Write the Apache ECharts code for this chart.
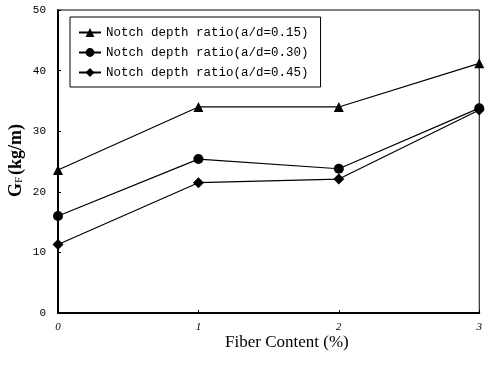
<!DOCTYPE html>
<html>
<head>
<meta charset="utf-8">
<script src="https://cdn.jsdelivr.net/npm/echarts@6/dist/echarts.min.js"></script>
<style>
  html, body { margin: 0; padding: 0; background: #fff; }
  #chart { width: 485px; height: 366px; }
</style>
</head>
<body>
<div id="chart"></div>
<script>
// Fracture energy vs. fiber content for three notch depth ratios
const fiberContent = [0, 1, 2, 3];
const seriesNames = [
  'Notch depth ratio(a/d=0.15)',
  'Notch depth ratio(a/d=0.30)',
  'Notch depth ratio(a/d=0.45)'
];
const gfRatio015 = [23.6, 34.0, 34.0, 41.2];
const gfRatio030 = [16.0, 25.4, 23.8, 33.8];
const gfRatio045 = [11.3, 21.5, 22.1, 33.5];
const seriesSymbols = ['triangle', 'circle', 'diamond'];

const allValues = [gfRatio015, gfRatio030, gfRatio045];

const chart = echarts.init(document.getElementById('chart'), null, { renderer: 'canvas' });

const series = allValues.map((vals, i) => ({
  name: seriesNames[i],
  type: 'line',
  data: fiberContent.map((x, j) => [x, vals[j]]),
  symbol: seriesSymbols[i],
  symbolSize: i === 2 ? 11 : 10,
  lineStyle: { color: '#000', width: 1.2 },
  itemStyle: { color: '#000' },
  z: 5
}));

chart.setOption({
  animation: false,
  backgroundColor: '#fff',
  grid: { left: 58, right: 1, top: 10, bottom: 53, show: true, borderColor: '#000', borderWidth: 1 },
  legend: {
    orient: 'vertical',
    left: 70,
    top: 17,
    width: 252,
    padding: [9, 12, 8, 8],
    itemGap: 7,
    itemWidth: 22,
    itemHeight: 11,
    backgroundColor: '#fff',
    borderColor: '#000',
    borderWidth: 1,
    textStyle: { fontFamily: 'Liberation Mono', fontSize: 12.5, color: '#000', padding: [0, 9, 0, 0] },
    data: seriesNames
  },
  xAxis: {
    type: 'value',
    min: 0,
    max: 3,
    interval: 1,
    axisLine: { lineStyle: { color: '#000', width: 2 } },
    axisTick: { inside: true, length: 3, lineStyle: { color: '#000' } },
    splitLine: { show: false },
    axisLabel: { color: '#000', fontFamily: 'Liberation Serif', fontStyle: 'italic', fontSize: 11, margin: 9 }
  },
  yAxis: {
    type: 'value',
    min: 0,
    max: 50,
    interval: 10,
    axisLine: { show: true, lineStyle: { color: '#000', width: 2 } },
    axisTick: { show: true, inside: true, length: 3, lineStyle: { color: '#000' } },
    splitLine: { show: false },
    axisLabel: { color: '#000', fontFamily: 'Liberation Mono', fontSize: 11, margin: 12 }
  },
  graphic: [
    {
      type: 'text',
      left: 225,
      top: 334,
      style: { text: 'Fiber Content (%)', font: '17px "Liberation Serif"', fill: '#000' }
    },
    {
      type: 'text',
      x: 7,
      y: 197,
      rotation: Math.PI / 2,
      style: {
        text: '{g|G}{s|F}{g|(kg/m)}',
        fill: '#000',
        rich: {
          g: { font: 'bold 18px "Liberation Serif"', fill: '#000' },
          s: { font: '11px "Liberation Serif"', fill: '#000', verticalAlign: 'bottom', padding: [7, 2, 0, 0] }
        }
      }
    }
  ],
  series: series
});
</script>
</body>
</html>
